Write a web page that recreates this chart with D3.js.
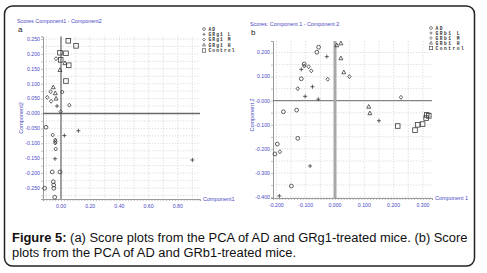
<!DOCTYPE html>
<html><head><meta charset="utf-8">
<script src="https://cdn.jsdelivr.net/npm/d3@7/dist/d3.min.js"></script>
<style>body{margin:0;background:#fff}svg{display:block}</style>
</head><body>
<svg id="c" width="487" height="273"></svg>
<script>
// ---------- Panel a data (Component1, Component2) ----------
const aSeries = ["AD", "GRg1 L", "GRg1 M", "GRg1 H", "Control"];
const aAD = [[-0.060,-0.196],[-0.007,-0.196],[-0.043,-0.281],[-0.112,-0.251],[-0.053,-0.229],[-0.050,-0.240],[-0.049,-0.251],[-0.103,-0.046]];
const aL = [[0.119,-0.058],[0.023,-0.074],[-0.041,-0.152],[0.900,-0.156],[-0.027,0.025]];
const aM = [[-0.057,-0.072],[-0.039,-0.089],[-0.038,-0.094],[-0.040,-0.099],[-0.036,-0.119],[-0.034,0.184],[-0.071,0.073],[-0.094,0.054],[-0.068,0.041],[0.009,0.072],[0.057,0.028],[-0.002,0.006]];
const aH = [[-0.007,0.146],[-0.053,0.088],[-0.039,0.068],[0.027,0.169],[-0.034,0.050]];
const aC = [[0.050,0.244],[0.103,0.227],[-0.007,0.204],[0.034,0.202],[-0.002,0.180],[0.053,0.162],[0.034,0.109]];
const aXTicks = [0, 0.2, 0.4, 0.6, 0.8];
const aXLabels = ["0.00", "0.20", "0.40", "0.60", "0.80"];
const aYTicks = [0.25, 0.2, 0.15, 0.1, 0.05, 0, -0.05, -0.1, -0.15, -0.2, -0.25];
const aYLabels = ["0.250","0.200","0.150","0.100","0.050","-0.000","-0.050","-0.100","-0.150","-0.200","-0.250"];

// ---------- Panel b data ----------
const bSeries = ["AD", "GRb1 L", "GRb1 M", "GRb1 H", "Control"];
const bAD = [[-0.056,0.222],[-0.062,0.201],[-0.105,0.152],[-0.115,0.091],[-0.176,-0.046],[-0.131,-0.039],[-0.127,-0.156],[-0.197,-0.180],[-0.205,-0.221],[-0.149,-0.354]];
const bL = [[-0.115,0.130],[-0.077,0.058],[-0.102,0.018],[-0.057,0.006],[-0.085,-0.271],[-0.190,-0.395],[0.150,-0.083],[-0.028,0.183]];
const bM = [[-0.105,0.144],[-0.090,0.141],[-0.081,0.124],[-0.025,0.089],[-0.127,0.050],[-0.188,-0.212],[0.049,0.100],[0.225,0.014]];
const bH = [[0.006,0.230],[0.020,0.238],[0.020,0.176],[0.030,0.118],[0.115,-0.025],[0.119,-0.052]];
const bC = [[0.214,-0.105],[0.273,-0.122],[0.282,-0.100],[0.299,-0.097],[0.313,-0.059],[0.320,-0.063],[0.311,-0.072]];
const bXTicks = [-0.2, -0.1, 0, 0.1, 0.2, 0.3];
const bXLabels = ["-0.200","-0.100","0.000","0.100","0.200","0.300"];
const bYTicks = [0.2, 0.1, 0, -0.1, -0.2, -0.3, -0.4];
const bYLabels = ["0.200","0.100","-0.000","-0.100","-0.200","-0.300","-0.400"];

const caption1Bold = "Figure 5:";
const caption1 = " (a) Score plots from the PCA of AD and GRg1-treated mice. (b) Score";
const caption2 = "plots from the PCA of AD and GRb1-treated mice.";

const svg = d3.select("#c");
const BLUE = "#4a4ac4";
const MARK = "#3a3a3a";

svg.append("rect").attr("x",4.5).attr("y",6).attr("width",470).attr("height",260)
  .attr("rx",8).attr("fill","#fff").attr("stroke","#222").attr("stroke-width",1.5);

function shape(g, kind, x, y, s) {
  s = s || 1;
  if (kind === "circle") g.append("circle").attr("cx",x).attr("cy",y).attr("r",1.9*s);
  else if (kind === "square") g.append("rect").attr("x",x-2.3*s).attr("y",y-2.3*s).attr("width",4.6*s).attr("height",4.6*s);
  else if (kind === "diamond") g.append("path").attr("d",`M${x},${y-2*s}L${x+1.7*s},${y}L${x},${y+2*s}L${x-1.7*s},${y}Z`);
  else if (kind === "triangle") g.append("path").attr("d",`M${x},${y-2.2*s}L${x+2*s},${y+1.5*s}L${x-2*s},${y+1.5*s}Z`);
  else if (kind === "plus") g.append("path").attr("d",`M${x-2*s},${y}H${x+2*s}M${x},${y-2*s}V${y+2*s}`);
}
const kinds = ["circle","plus","diamond","triangle","square"];

function panel(cfg) {
  const g = svg.append("g");
  const x = d3.scaleLinear().domain(cfg.xd).range(cfg.xr);
  const y = d3.scaleLinear().domain(cfg.yd).range(cfg.yr);
  const grid = g.append("g").attr("stroke","#c4c4c4").attr("stroke-width",0.6).attr("stroke-dasharray","1.2,1.6");
  cfg.gx.forEach(v => grid.append("line").attr("x1",x(v)).attr("x2",x(v)).attr("y1",cfg.yr[1]).attr("y2",cfg.yr[0]));
  cfg.gy.forEach(v => grid.append("line").attr("y1",y(v)).attr("y2",y(v)).attr("x1",cfg.xr[0]).attr("x2",cfg.xr[1]));
  const xa = g.append("g").attr("transform",`translate(0,${cfg.yr[0]})`)
    .call(d3.axisBottom(x).tickValues(cfg.minorX).tickSize(2).tickFormat(""));
  const ya = g.append("g").attr("transform",`translate(${cfg.xr[0]},0)`)
    .call(d3.axisLeft(y).tickValues(cfg.minorY).tickSize(2).tickFormat(""));
  [xa, ya].forEach(a => { a.selectAll("path").attr("stroke","#9a9a9a").attr("stroke-width",1); a.selectAll("line").attr("stroke","#9a9a9a").attr("stroke-width",0.6); });
  cfg.xt.forEach((v,i) => g.append("text").attr("x",x(v)).attr("y",cfg.yr[0]+8.5).attr("text-anchor","middle")
    .attr("font-family","Liberation Sans, Arial, sans-serif").attr("font-size",5.2).attr("fill",BLUE).text(cfg.xl[i]));
  cfg.yt.forEach((v,i) => g.append("text").attr("x",cfg.xr[0]-3).attr("y",y(v)+1.8).attr("text-anchor","end")
    .attr("font-family","Liberation Sans, Arial, sans-serif").attr("font-size",5.2).attr("fill",BLUE).text(cfg.yl[i]));
  g.append("line").attr("x1",cfg.xr[0]).attr("x2",cfg.xr[1]).attr("y1",y(0)).attr("y2",y(0))
    .attr("stroke",cfg.hz.c).attr("stroke-width",cfg.hz.w);
  g.append("line").attr("x1",x(0)).attr("x2",x(0)).attr("y1",cfg.yr[1]).attr("y2",cfg.yr[0])
    .attr("stroke",cfg.vz.c).attr("stroke-width",cfg.vz.w);
  g.append("text").attr("x",cfg.xr[1]+3).attr("y",cfg.yr[0]+2).attr("font-family","Liberation Sans, Arial, sans-serif")
    .attr("font-size",5.5).attr("fill",BLUE).text(cfg.xlab);
  g.append("text").attr("transform",`translate(${cfg.ylx},${cfg.yly}) rotate(-90)`).attr("text-anchor","middle")
    .attr("font-family","Liberation Sans, Arial, sans-serif").attr("font-size",5.5).attr("fill",BLUE).text(cfg.ylab);
  g.append("text").attr("x",cfg.tx).attr("y",cfg.ty).attr("font-family","Liberation Sans, Arial, sans-serif")
    .attr("font-size",5.4).attr("fill",BLUE).text(cfg.title);
  g.append("text").attr("x",cfg.lx).attr("y",cfg.ly).attr("font-family","Liberation Sans, Arial, sans-serif")
    .attr("font-size",8).attr("fill","#222").text(cfg.letter);
  const pg = g.append("g").attr("fill","none").attr("stroke",MARK).attr("stroke-width",0.8);
  cfg.data.forEach((arr,k) => arr.forEach(d => shape(pg, kinds[k], x(d[0]), y(d[1]))));
  const lg = g.append("g");
  cfg.series.forEach((s,k) => {
    const yy = cfg.legY[k];
    shape(lg.append("g").attr("fill","none").attr("stroke",MARK).attr("stroke-width",0.6), kinds[k], cfg.legX, yy, 0.75);
    lg.append("text").attr("x",cfg.legX+4.5).attr("y",yy+1.7).attr("font-family","Liberation Mono, Courier New, monospace")
      .attr("font-weight","bold").attr("font-size",4.6).attr("letter-spacing",cfg.legLS).attr("fill","#333").text(s);
  });
}

panel({
  xd:[-0.1233,0.9521], xr:[43,200], yd:[-0.2869,0.2584], yr:[199,36.5],
  gx:d3.range(-0.1,0.95,0.1), gy:d3.range(-0.275,0.26,0.025),
  minorX:d3.range(-0.12,0.95,0.02), minorY:d3.range(-0.275,0.26,0.025),
  xt:aXTicks, xl:aXLabels, yt:aYTicks, yl:aYLabels,
  hz:{c:"#6a6a6a",w:1.3}, vz:{c:"#4a4a4a",w:1},
  xlab:"Component1", ylab:"Component2", ylx:23, yly:118,
  title:"Scores Component1 - Component2", tx:17, ty:22.5, letter:"a", lx:18, ly:32,
  data:[aAD,aL,aM,aH,aC], series:aSeries, legX:204, legY:[29,34.3,39.6,44.9,50.5], legLS:1.1
});
panel({
  xd:[-0.2116,0.331], xr:[273,432], yd:[-0.4037,0.2477], yr:[198,41],
  gx:d3.range(-0.2,0.34,0.05), gy:d3.range(-0.4,0.25,0.05),
  minorX:d3.range(-0.2,0.34,0.01), minorY:d3.range(-0.4,0.25,0.05),
  xt:bXTicks, xl:bXLabels, yt:bYTicks, yl:bYLabels,
  hz:{c:"#6a6a6a",w:1}, vz:{c:"#a8a8a8",w:3},
  xlab:"Component 1", ylab:"Component 2", ylx:254, yly:115,
  title:"Scores: Component 1 - Component 2", tx:250, ty:25.5, letter:"b", lx:251, ly:35,
  data:[bAD,bL,bM,bH,bC], series:bSeries, legX:431, legY:[28,33,38,43,48], legLS:1.5
});

// caption: size chosen so line 1 spans the reference width (x 12 to 468)
const cap = svg.append("g").attr("font-family","Liberation Sans, Arial, sans-serif").attr("font-size",12).attr("fill","#111");
const t1 = cap.append("text").attr("x",12).attr("y",241.5);
t1.append("tspan").attr("font-weight","bold").text(caption1Bold);
t1.append("tspan").text(caption1);
const t2 = cap.append("text").attr("x",12).attr("y",256.5).text(caption2);
const w = t1.node().getComputedTextLength();
cap.attr("font-size", 12 * 456 / w);
</script>
</body></html>
